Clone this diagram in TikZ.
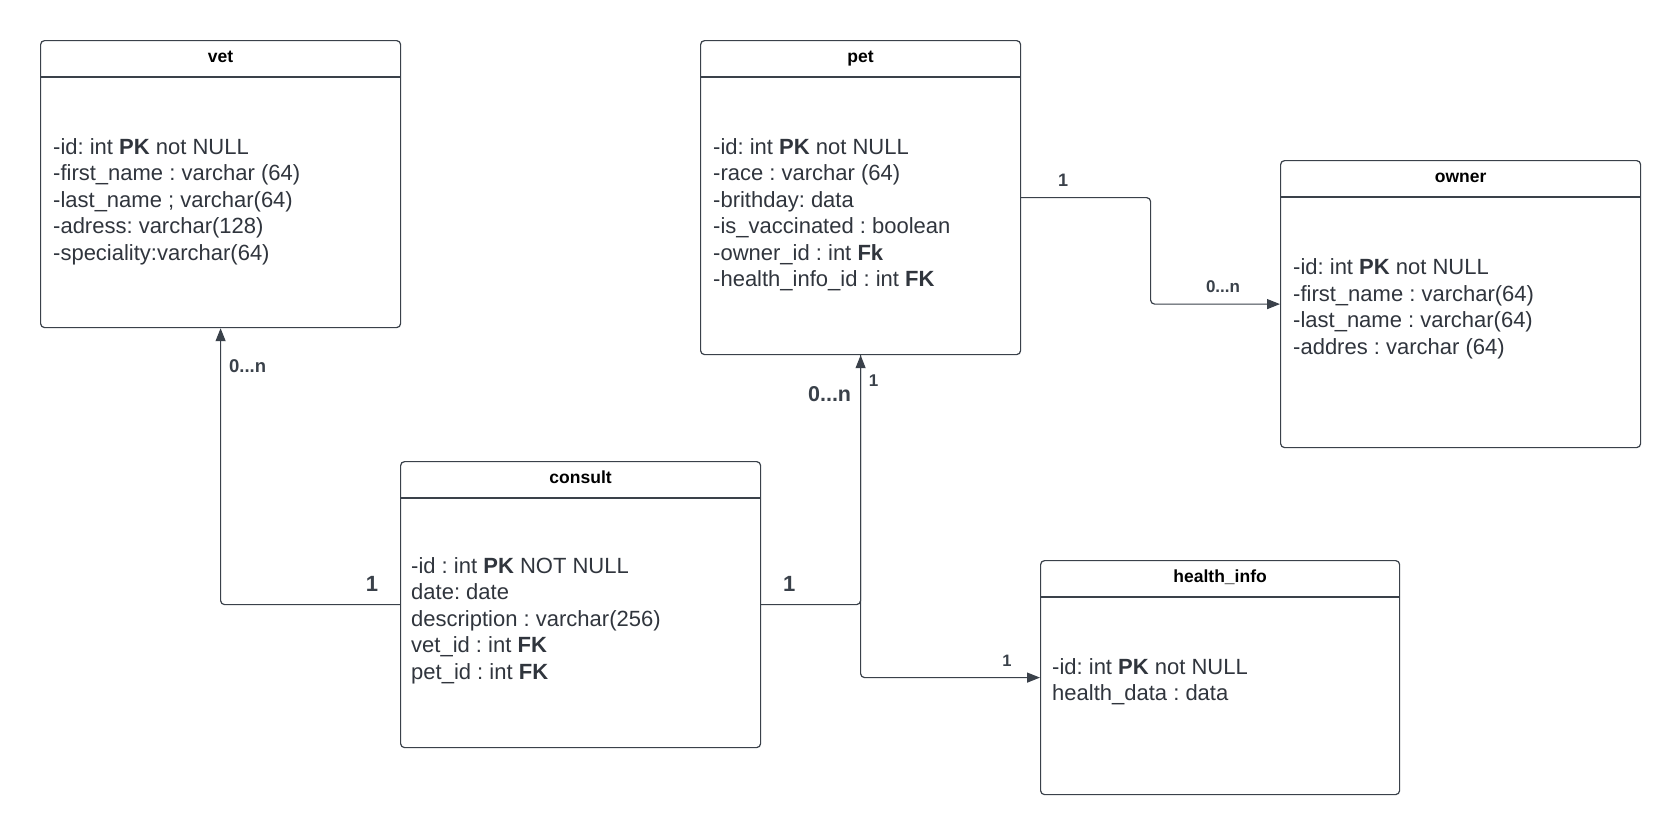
\documentclass[tikz,border=0pt]{standalone}
\usepackage{fontspec}
\setmainfont{Liberation Sans}
\usetikzlibrary{arrows.meta,calc}

\definecolor{edgegray}{HTML}{3A414A}
\definecolor{textgray}{HTML}{30353D}

\tikzset{
  entity/.style={draw=edgegray, line width=1.2pt, rounded corners=4pt, inner sep=0pt, anchor=north west},
  entitytitle/.style={anchor=base, inner sep=0pt, font=\fontsize{17.5}{21}\selectfont\bfseries},
  attrs/.style={anchor=west, align=left, inner sep=0pt, text=textgray, font=\fontsize{22}{26.5}\selectfont\frenchspacing},
  headrule/.style={draw=edgegray, line width=1.2pt},
  relation/.style={draw=edgegray, line width=1.2pt, rounded corners=4pt, -{Triangle[length=13pt,width=10pt]}},
  mult/.style={inner sep=0pt, text=edgegray, font=\fontsize{#1}{#1}\selectfont\bfseries}
}

\begin{document}
\frenchspacing
\begin{tikzpicture}[x=1pt, y=-1pt]
  \useasboundingbox[fill=white] (0,0) rectangle (1680,835);

  % tables (pixel grid, y downwards)
  \node[entity, minimum width=360pt, minimum height=287pt] (vet) at (40,40) {};
  \node[entity, minimum width=320pt, minimum height=314pt] (pet) at (700,40) {};
  \node[entity, minimum width=360pt, minimum height=287pt] (owner) at (1280,160) {};
  \node[entity, minimum width=360pt, minimum height=286pt] (consult) at (400,461) {};
  \node[entity, minimum width=359pt, minimum height=234pt] (health) at (1040,560) {};

  % header rules and titles
  \foreach \t in {vet,pet,owner,consult,health}
    \draw[headrule] ([yshift=-37pt]\t.north west) -- ([yshift=-37pt]\t.north east);
  \node[entitytitle] (vet-title) at ([yshift=-22.5pt]vet.north) {vet};
  \node[entitytitle] (pet-title) at ([yshift=-22.5pt]pet.north) {pet};
  \node[entitytitle] (owner-title) at ([yshift=-22.5pt]owner.north) {owner};
  \node[entitytitle] (consult-title) at ([yshift=-22.5pt]consult.north) {consult};
  \node[entitytitle] (health-title) at ([yshift=-22.5pt]health.north) {health\_info};

  % attribute lists
  \node[attrs] (vet-attrs) at ([xshift=13pt,yshift=-17.5pt]vet.west)
    {-id: int \textbf{PK} not NULL\\-first\_name : varchar (64)\\-last\_name ; varchar(64)\\-adress: varchar(128)\\-speciality:varchar(64)};
  \node[attrs] (pet-attrs) at ([xshift=13pt,yshift=-17pt]pet.west)
    {-id: int \textbf{PK} not NULL\\-race : varchar (64)\\-brithday: data\\-is\_vaccinated : boolean\\-owner\_id : int \textbf{Fk}\\-health\_info\_id : int \textbf{FK}};
  \node[attrs] (owner-attrs) at ([xshift=13pt,yshift=-4.5pt]owner.west)
    {-id: int \textbf{PK} not NULL\\-first\_name : varchar(64)\\-last\_name : varchar(64)\\-addres : varchar (64)};
  \node[attrs] (consult-attrs) at ([xshift=11pt,yshift=-16pt]consult.west)
    {-id : int \textbf{PK} NOT NULL\\date: date\\description : varchar(256)\\vet\_id : int \textbf{FK}\\pet\_id : int \textbf{FK}};
  \node[attrs] (health-attrs) at ([xshift=12pt,yshift=-4pt]health.west)
    {-id: int \textbf{PK} not NULL\\health\_data : data};

  % relations
  \draw[relation] (consult.west) -| (vet.south);
  \draw[relation] (consult.east) -| (pet.south);
  \draw[relation] (pet.east) -| ($(pet.east)!0.5!(owner.west)$) |- (owner.west);
  \draw[relation] (pet.south) |- (health.west);

  % multiplicities
  \node[mult=18.5] (m-vet) at ([xshift=27pt,yshift=-38pt]vet.south) {0...n};
  \node[mult=22] (m-consult-vet) at ([xshift=-28pt,yshift=21pt]consult.west) {1};
  \node[mult=22] (m-consult-pet) at ([xshift=28pt,yshift=21pt]consult.east) {1};
  \node[mult=21.5] (m-pet-consult) at ([xshift=-31pt,yshift=-39pt]pet.south) {0...n};
  \node[mult=17] (m-pet-health) at ([xshift=13pt,yshift=-25pt]pet.south) {1};
  \node[mult=18] (m-pet-owner) at ([xshift=42pt,yshift=17pt]pet.east) {1};
  \node[mult=17] (m-owner) at ([xshift=-57pt,yshift=17pt]owner.west) {0...n};
  \node[mult=16.5] (m-health) at ([xshift=-33pt,yshift=17pt]health.west) {1};
\end{tikzpicture}
\end{document}
